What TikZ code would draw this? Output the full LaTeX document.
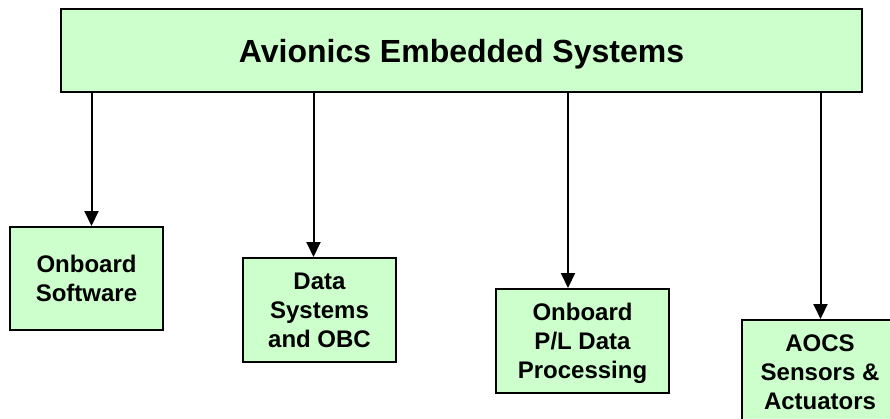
\documentclass[tikz,border=0pt]{standalone}
\usepackage{fontspec}
\setmainfont{Liberation Sans}
\usetikzlibrary{arrows.meta}
\definecolor{boxgreen}{HTML}{CCFFCC}
\begin{document}
\begin{tikzpicture}[x=1pt,y=-1pt,
  box/.style={draw=black,line width=2pt,fill=boxgreen,rectangle,inner sep=0pt,align=center,text depth=0pt,
    font=\bfseries\fontsize{24}{29}\selectfont},
  arr/.style={line width=2pt,-{Triangle[width=14pt,length=15pt]}}]
\useasboundingbox (0,0) rectangle (890,418);
\clip (0,0) rectangle (890,418);
\fill[white] (0,0) rectangle (890,418);
\node[box,minimum width=801pt,minimum height=83pt,font=\bfseries\fontsize{32}{38}\selectfont] (top) at (461.5,50.5) {Avionics Embedded Systems};
\node[box,minimum width=153pt,minimum height=103pt] (sw) at (86.5,278.5) {Onboard\\Software};
\node[box,minimum width=153pt,minimum height=104pt] (ds) at (319.5,310) {Data\\Systems\\and OBC};
\node[box,minimum width=173pt,minimum height=104pt] (pl) at (582.5,341) {Onboard\\P/L Data\\Processing};
\node[box,minimum width=156pt,minimum height=104pt] (ao) at (820,372) {AOCS\\Sensors \&\\Actuators};
\coordinate (a1) at (91.5,0);
\coordinate (a2) at (313.5,0);
\coordinate (a3) at (568,0);
\coordinate (a4) at (820.5,0);
\draw[arr] (top.south -| a1) -- (sw.north -| a1);
\draw[arr] (top.south -| a2) -- (ds.north -| a2);
\draw[arr] (top.south -| a3) -- (pl.north -| a3);
\draw[arr] (top.south -| a4) -- (ao.north -| a4);
\end{tikzpicture}
\end{document}
